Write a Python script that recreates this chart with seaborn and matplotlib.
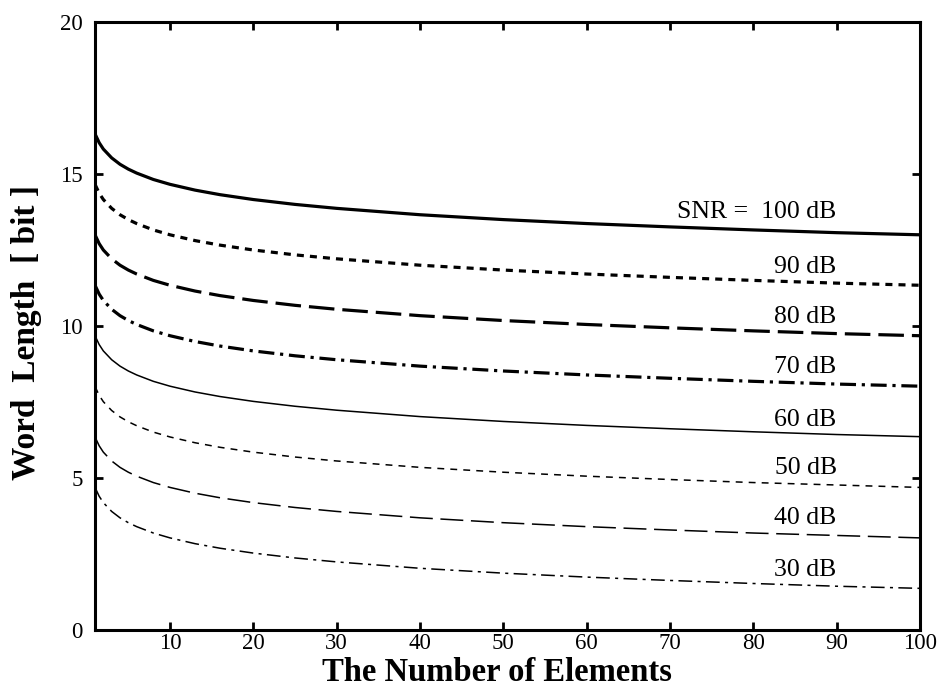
import matplotlib
matplotlib.use("Agg")
import matplotlib.pyplot as plt
import seaborn as sns
import pandas as pd

# Data
n_elements = [1, 1.5, 2, 3, 4, 5, 6, 8, 10, 13, 16, 20, 25, 30, 40, 50, 60, 70, 80, 90, 100]
snr_labels = ["SNR =  100 dB", "90 dB", "80 dB", "70 dB", "60 dB", "50 dB", "40 dB", "30 dB"]
snr_100 = [16.32, 16.03, 15.82, 15.53, 15.32, 15.16, 15.03, 14.82, 14.66, 14.47, 14.32, 14.16, 14.00, 13.87, 13.66, 13.50, 13.37, 13.26, 13.16, 13.07, 13.00]
snr_90 = [14.66, 14.37, 14.16, 13.87, 13.66, 13.50, 13.37, 13.16, 13.00, 12.81, 12.66, 12.50, 12.34, 12.21, 12.00, 11.84, 11.71, 11.60, 11.50, 11.41, 11.34]
snr_80 = [13.00, 12.71, 12.50, 12.21, 12.00, 11.84, 11.71, 11.50, 11.34, 11.15, 11.00, 10.84, 10.68, 10.55, 10.34, 10.18, 10.05, 9.94, 9.84, 9.75, 9.68]
snr_70 = [11.34, 11.05, 10.84, 10.55, 10.34, 10.18, 10.05, 9.84, 9.68, 9.49, 9.34, 9.18, 9.02, 8.89, 8.68, 8.52, 8.39, 8.28, 8.18, 8.09, 8.02]
snr_60 = [9.68, 9.39, 9.18, 8.89, 8.68, 8.52, 8.39, 8.18, 8.02, 7.83, 7.68, 7.52, 7.36, 7.23, 7.02, 6.86, 6.73, 6.62, 6.52, 6.43, 6.36]
snr_50 = [8.01, 7.72, 7.51, 7.22, 7.01, 6.85, 6.72, 6.51, 6.35, 6.16, 6.01, 5.85, 5.69, 5.56, 5.35, 5.19, 5.06, 4.95, 4.85, 4.77, 4.69]
snr_40 = [6.35, 6.06, 5.85, 5.56, 5.35, 5.19, 5.06, 4.85, 4.69, 4.50, 4.35, 4.19, 4.03, 3.90, 3.69, 3.53, 3.40, 3.29, 3.19, 3.11, 3.03]
snr_30 = [4.69, 4.40, 4.19, 3.90, 3.69, 3.53, 3.40, 3.19, 3.03, 2.84, 2.69, 2.53, 2.37, 2.24, 2.03, 1.87, 1.74, 1.63, 1.53, 1.44, 1.37]
label_y = [13.75, 11.94, 10.3, 8.65, 6.9, 5.33, 3.68, 1.97]
x_ticks = [10, 20, 30, 40, 50, 60, 70, 80, 90, 100]
y_ticks = [0, 5, 10, 15, 20]

series = [snr_100, snr_90, snr_80, snr_70, snr_60, snr_50, snr_40, snr_30]
widths = [2.3, 2.3, 2.3, 2.3, 1.1, 1.1, 1.1, 1.1]
dashes = [None, (2.2, 1.9), (8, 2.5), (5, 1.8, 1, 1.8), None, (4.5, 4), (15, 5), (9, 3.5, 2, 3.5)]

sns.set_style("ticks")
plt.rcParams['font.family'] = ['Liberation Serif', 'DejaVu Serif']

fig = plt.figure(figsize=(9.42, 6.97), dpi=100)
ax = fig.add_axes([95/942, 1-630/697, (920-95)/942, (630-22)/697])

for lab, vals, lw, dsh in zip(snr_labels, series, widths, dashes):
    df = pd.DataFrame({"n": n_elements, "w": vals})
    sns.lineplot(data=df, x="n", y="w", ax=ax, color="black", linewidth=lw)
    line = ax.lines[-1]
    if dsh is not None:
        line.set_dashes(dsh)

for lab, ly in zip(snr_labels, label_y):
    ax.text(90.0, ly, lab, ha="right", va="center", fontsize=18.5, color="black")

ax.set_xlim(1, 100)
ax.set_ylim(0, 20)
ax.set_xticks(x_ticks)
ax.set_yticks(y_ticks)
ax.tick_params(direction="in", length=6, width=2, top=True, right=True, labelsize=16.5,
               colors="black")
ax.tick_params(axis="x", pad=2)
ax.tick_params(axis="y", pad=9)
for sp in ax.spines.values():
    sp.set_linewidth(2.2)
    sp.set_color("black")
    sp.set_visible(True)
ax.set_xlabel("The Number of Elements", fontsize=23.5, fontweight="bold", color="black")
ax.set_ylabel("Word  Length  [ bit ]", fontsize=24, fontweight="bold", color="black")
ax.xaxis.set_label_coords(0.487, -0.045)
ax.yaxis.set_label_coords(-0.064, 0.49)

fig.savefig("out.png", dpi=100)
